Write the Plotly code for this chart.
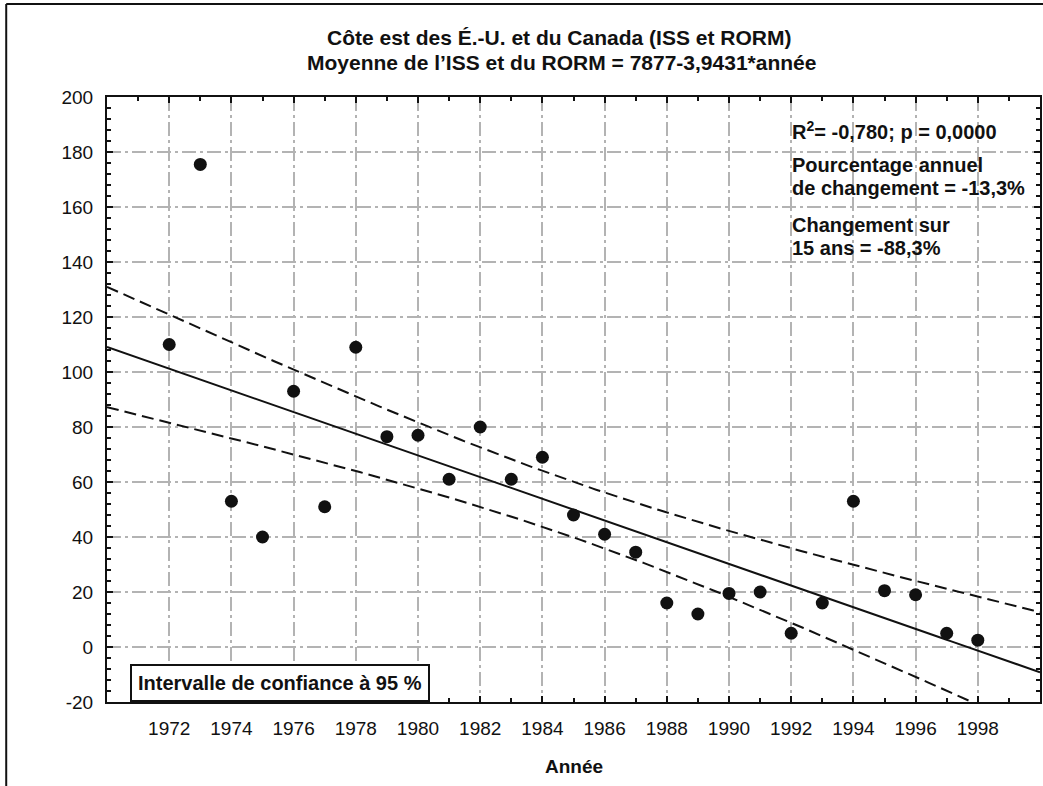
import numpy as np
import plotly.graph_objects as go

# ---------------- data ----------------
YEARS = [1972, 1973, 1974, 1975, 1976, 1977, 1978, 1979, 1980, 1981, 1982, 1983, 1984,
         1985, 1986, 1987, 1988, 1989, 1990, 1991, 1992, 1993, 1994, 1995, 1996, 1997, 1998]
VALUES = [110, 175.5, 53, 40, 93, 51, 109, 76.5, 77, 61, 80, 61, 69,
          48, 41, 34.5, 16, 12, 19.5, 20, 5, 16, 53, 20.5, 19, 5, 2.5]
X_TICKS = [1972, 1974, 1976, 1978, 1980, 1982, 1984, 1986, 1988, 1990, 1992, 1994, 1996, 1998]
Y_TICKS = [-20, 0, 20, 40, 60, 80, 100, 120, 140, 160, 180, 200]
X_RANGE = [1970, 2000]
Y_RANGE = [-20, 200]

# regression printed in the title: 7877 - 3,9431*année
INTERCEPT = 7877.0
SLOPE = -3.9431
T_CRIT = 2.0595  # Student t, 0.975, df = 25

TITLE_1 = "Côte est des É.-U. et du Canada (ISS et RORM)"
TITLE_2 = "Moyenne de l’ISS et du RORM = 7877-3,9431*année"
STAT_LINES = ["R<sup>2</sup>= -0,780; p = 0,0000",
              "Pourcentage annuel",
              "de changement = -13,3%",
              "Changement sur",
              "15 ans = -88,3%"]
LEGEND_TEXT = "Intervalle de confiance à 95 %"
X_TITLE = "Année"

# ---------------- derived curves ----------------
x = np.array(YEARS, dtype=float)
y = np.array(VALUES, dtype=float)
n = len(x)
b1, b0 = np.polyfit(x, y, 1)
s = np.sqrt(np.sum((y - (b0 + b1 * x)) ** 2) / (n - 2))
sxx = np.sum((x - x.mean()) ** 2)
xs = np.linspace(X_RANGE[0], X_RANGE[1], 241)
fit = INTERCEPT + SLOPE * xs
half = T_CRIT * s * np.sqrt(1.0 / n + (xs - x.mean()) ** 2 / sxx)

# ---------------- layout geometry (pixels) ----------------
W, H = 1043, 786
L, R, T, B = 107, 1042, 97, 702
PW, PH = R - L, B - T


def px(xp):
    return (xp - L) / PW


def py(yp):
    return (B - yp) / PH


FONT = "Liberation Sans, Arial, sans-serif"
BLACK = "#111111"
GRID = "#b3b3b3"

fig = go.Figure()
fig.add_trace(go.Scatter(x=xs, y=fit + half, mode="lines",
                         line=dict(color=BLACK, width=2, dash="12px,6px"),
                         hoverinfo="skip", showlegend=False))
fig.add_trace(go.Scatter(x=xs, y=fit - half, mode="lines",
                         line=dict(color=BLACK, width=2, dash="12px,6px"),
                         hoverinfo="skip", showlegend=False))
fig.add_trace(go.Scatter(x=xs, y=fit, mode="lines",
                         line=dict(color=BLACK, width=2),
                         hoverinfo="skip", showlegend=False))
fig.add_trace(go.Scatter(x=YEARS, y=VALUES, mode="markers",
                         marker=dict(color=BLACK, size=13, line=dict(width=0)),
                         showlegend=False))

axis_common = dict(
    showline=True, linecolor=BLACK, linewidth=2, mirror="allticks",
    ticks="inside", ticklen=6, tickwidth=1.5, tickcolor=BLACK,
    showgrid=True, gridcolor=GRID, gridwidth=1.5, griddash="14px,4px,3px,4px",
    zeroline=False,
    tickfont=dict(family=FONT, size=19, color=BLACK),
)

fig.update_xaxes(range=X_RANGE, tickmode="array", tickvals=X_TICKS,
                 ticktext=[str(v) for v in X_TICKS], ticklabelstandoff=8,
                 minor=dict(tickmode="linear", tick0=1970, dtick=1, ticks="inside",
                            ticklen=4, tickcolor=BLACK, showgrid=False),
                 **axis_common)
fig.update_yaxes(range=Y_RANGE, tickmode="array", tickvals=Y_TICKS,
                 ticktext=[str(v) for v in Y_TICKS], ticklabelstandoff=8,
                 minor=dict(tickmode="linear", tick0=-20, dtick=4, ticks="inside",
                            ticklen=4, tickcolor=BLACK, showgrid=False),
                 **axis_common)

ann = []
ann.append(dict(text=TITLE_1, x=px(560), y=py(37), xref="paper", yref="paper",
                xanchor="center", yanchor="middle", showarrow=False,
                font=dict(family=FONT, size=21, color=BLACK, weight="bold")))
ann.append(dict(text=TITLE_2, x=px(562), y=py(63), xref="paper", yref="paper",
                xanchor="center", yanchor="middle", showarrow=False,
                font=dict(family=FONT, size=21, color=BLACK, weight="bold")))
stat_y = [130, 165, 188, 225, 248]
for txt, yy in zip(STAT_LINES, stat_y):
    ann.append(dict(text=txt, x=px(791), y=py(yy), xref="paper", yref="paper",
                    xanchor="left", yanchor="middle", showarrow=False,
                    font=dict(family=FONT, size=20, color=BLACK, weight="bold")))
ann.append(dict(text=LEGEND_TEXT, x=px(130), y=0, xref="paper", yref="paper",
                xanchor="left", yanchor="bottom", showarrow=False,
                bgcolor="white", bordercolor=BLACK, borderwidth=2, borderpad=6,
                font=dict(family=FONT, size=20, color=BLACK, weight="bold")))
ann.append(dict(text=X_TITLE, x=0.5, y=py(766), xref="paper", yref="paper",
                xanchor="center", yanchor="middle", showarrow=False,
                font=dict(family=FONT, size=19, color=BLACK, weight="bold")))

shapes = [
    dict(type="line", xref="paper", yref="paper", x0=px(6), x1=px(6), y0=py(4), y1=py(800),
         line=dict(color=BLACK, width=2)),
    dict(type="line", xref="paper", yref="paper", x0=px(6), x1=px(1060), y0=py(4), y1=py(4),
         line=dict(color=BLACK, width=2)),
]

fig.update_layout(
    width=W, height=H,
    margin=dict(l=L, r=W - R, t=T, b=H - B, pad=0),
    paper_bgcolor="white", plot_bgcolor="white",
    annotations=ann, shapes=shapes,
    showlegend=False,
)

fig.write_html("out.html")
